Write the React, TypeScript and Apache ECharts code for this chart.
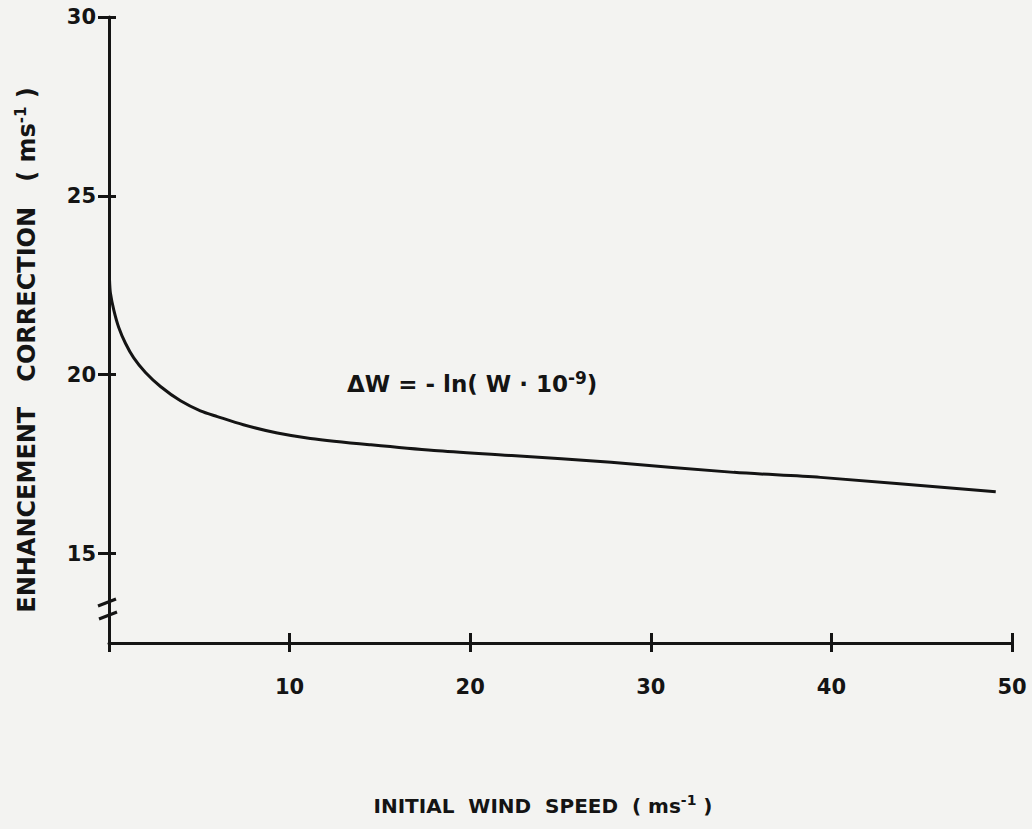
import React, { useEffect, useRef } from "react";
import * as echarts from "echarts";

const windSpeed = [0.03, 0.08, 0.27, 0.54, 0.91, 1.37, 2.02, 2.85, 3.96, 5.06, 6.0, 7.44, 9.32, 11.15, 14.5, 18, 22.3, 27.8, 34.6, 39.4, 49.1];
const enhancement = [22.64, 22.28, 21.8, 21.32, 20.88, 20.47, 20.06, 19.67, 19.27, 18.99, 18.83, 18.6, 18.37, 18.22, 18.04, 17.88, 17.74, 17.55, 17.27, 17.13, 16.73];
const xTicks = [0, 10, 20, 30, 40, 50];
const xLabels = [10, 20, 30, 40, 50];
const yTicks = [15, 20, 25, 30];

const INK = "#141414";
const NUM_FONT = "'DejaVu Sans', sans-serif";
const TITLE_FONT = "'DejaVu Sans', sans-serif";

export default function App() {
  const ref = useRef<HTMLDivElement>(null);
  useEffect(() => {
    if (!ref.current) return;
    const chart = echarts.init(ref.current, undefined, { renderer: "svg" });
    const axisCommon = {
      type: "value" as const,
      splitLine: { show: false },
    };
    chart.setOption({
      animation: false,
      backgroundColor: "#f3f3f1",
      grid: { left: 109, right: 20, top: 17, bottom: 186, containLabel: false },
      xAxis: [
        {
          ...axisCommon,
          min: 0,
          max: 50,
          position: "bottom",
          axisLine: { show: true, onZero: false, lineStyle: { color: INK, width: 3 } },
          axisTick: { show: true, inside: false, length: 9, customValues: xTicks, lineStyle: { color: INK, width: 3 } },
          axisLabel: {
            show: true,
            customValues: xLabels,
            margin: 33,
            color: INK,
            fontFamily: NUM_FONT,
            fontWeight: "bold",
            fontSize: 21,
          },
        },
        {
          ...axisCommon,
          min: 0,
          max: 50,
          position: "bottom",
          offset: 0,
          axisLine: { show: false, onZero: false },
          axisTick: { show: true, inside: true, length: 10, customValues: xTicks.slice(1), lineStyle: { color: INK, width: 3 } },
          axisLabel: { show: false },
        },
      ],
      yAxis: [
        {
          ...axisCommon,
          min: 12.5,
          max: 30,
          position: "left",
          axisLine: { show: true, onZero: false, lineStyle: { color: INK, width: 3 } },
          axisTick: { show: true, inside: false, length: 11, customValues: yTicks, lineStyle: { color: INK, width: 3 } },
          axisLabel: {
            show: true,
            customValues: yTicks,
            margin: 13,
            color: INK,
            fontFamily: NUM_FONT,
            fontWeight: "bold",
            fontSize: 21,
          },
        },
        {
          ...axisCommon,
          min: 12.5,
          max: 30,
          position: "left",
          offset: 0,
          axisLine: { show: false, onZero: false },
          axisTick: { show: true, inside: true, length: 7, customValues: yTicks, lineStyle: { color: INK, width: 3 } },
          axisLabel: { show: false },
        },
      ],
      series: [
        {
          type: "line",
          xAxisIndex: 0,
          yAxisIndex: 0,
          data: windSpeed.map((w, i) => [w, enhancement[i]]),
          showSymbol: false,
          smooth: 0.3,
          lineStyle: { color: INK, width: 3 },
        },
      ],
      graphic: [
        { type: "line", shape: { x1: 98, y1: 606, x2: 116, y2: 599 }, style: { stroke: INK, lineWidth: 3 } },
        { type: "line", shape: { x1: 99, y1: 619, x2: 117, y2: 612 }, style: { stroke: INK, lineWidth: 3 } },
        {
          type: "text",
          x: 27,
          y: 350,
          rotation: Math.PI / 2,
          style: {
            text: "{a|ENHANCEMENT   CORRECTION   ( ms}{s|-1}{a| )}",
            align: "center",
            verticalAlign: "middle",
            fill: INK,
            rich: {
              a: { fontFamily: TITLE_FONT, fontWeight: "bold", fontSize: 24, lineHeight: 28, fill: INK },
              s: { fontFamily: TITLE_FONT, fontWeight: "bold", fontSize: 15, lineHeight: 15, verticalAlign: "top", fill: INK },
            },
          },
        },
        {
          type: "text",
          x: 543,
          y: 806,
          style: {
            text: "{a|INITIAL  WIND  SPEED  ( ms}{s|-1}{a| )}",
            align: "center",
            verticalAlign: "middle",
            fill: INK,
            rich: {
              a: { fontFamily: TITLE_FONT, fontWeight: "bold", fontSize: 20, lineHeight: 26, fill: INK },
              s: { fontFamily: TITLE_FONT, fontWeight: "bold", fontSize: 14, lineHeight: 14, verticalAlign: "top", fill: INK },
            },
          },
        },
        {
          type: "text",
          x: 347,
          y: 384,
          style: {
            text: "{a|ΔW = - ln( W · 10}{s|-9}{a|)}",
            align: "left",
            verticalAlign: "middle",
            fill: INK,
            rich: {
              a: { fontFamily: TITLE_FONT, fontWeight: "bold", fontSize: 23, lineHeight: 30, fill: INK },
              s: { fontFamily: TITLE_FONT, fontWeight: "bold", fontSize: 17, lineHeight: 17, verticalAlign: "top", fill: INK },
            },
          },
        },
      ],
    });
    return () => chart.dispose();
  }, []);
  return (
    <div
      ref={ref}
      style={{ position: "absolute", left: 0, top: 0, width: 1032, height: 829, background: "#f3f3f1" }}
    />
  );
}
